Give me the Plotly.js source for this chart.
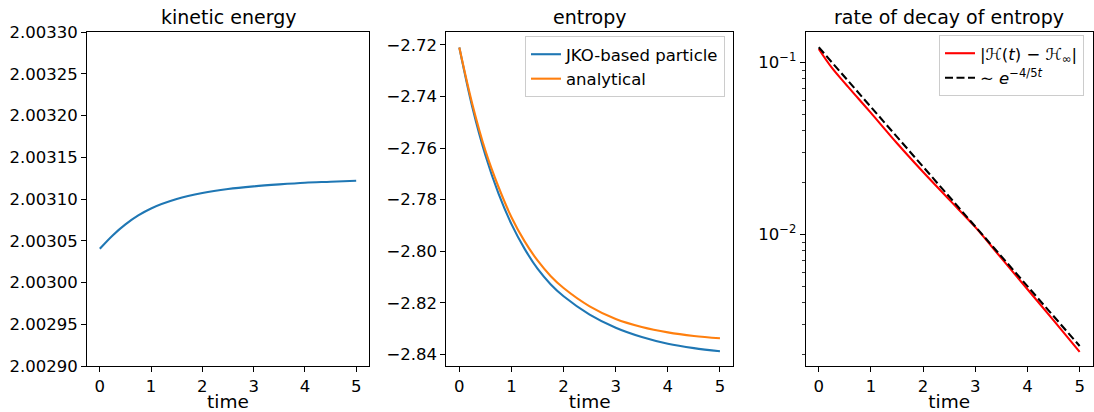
<!DOCTYPE html>
<html>
<head>
<meta charset="utf-8">
<script src="https://cdn.plot.ly/plotly-3.0.1.min.js"></script>
<style>
html,body{margin:0;padding:0;background:#fff;}
#chart{width:1094px;height:412px;}
</style>
</head>
<body>
<div id="chart"></div>
<script>
// ---- data ----
const panelTitles = ["kinetic energy", "entropy", "rate of decay of entropy"];
const xLabel = "time";

const timeKE = [0, 0.25, 0.5, 0.75, 1, 1.5, 2, 2.5, 3, 3.5, 4, 4.5, 5];
const kineticEnergy = [2.0030404, 2.0030564, 2.0030696, 2.0030803, 2.0030887, 2.0030999,
  2.0031071, 2.0031119, 2.0031151, 2.0031175, 2.0031195, 2.0031207, 2.0031219];

const timeH = [0, 0.25, 0.5, 0.75, 1, 1.25, 1.5, 1.75, 2, 2.5, 3, 3.5, 4, 4.5, 5];
const entropyJKO = [-2.7210, -2.7442, -2.7628, -2.7776, -2.7895, -2.7990, -2.8068, -2.8128,
  -2.8175, -2.8246, -2.8297, -2.8333, -2.8359, -2.8376, -2.8388];
const entropyAnalytical = [-2.7210, -2.7430, -2.7610, -2.7750, -2.7868, -2.7961, -2.8036, -2.8096,
  -2.8143, -2.8214, -2.8263, -2.8294, -2.8315, -2.8329, -2.8338];
const entropyNames = ["JKO-based particle", "analytical"];

const timeDecay = [0, 0.25, 0.5, 0.75, 1, 1.5, 2, 2.5, 3, 3.5, 4, 4.5, 5];
const decayError = [0.1195, 0.0930, 0.0756, 0.0620, 0.0508, 0.0338, 0.0230, 0.0159,
  0.01100, 0.00726, 0.00479, 0.00316, 0.00207];
const timeRef = [0, 1, 2, 3, 4, 5];
const decayReference = [0.1223, 0.0550, 0.0247, 0.0111, 0.00499, 0.00224];
const decayNames = ["|\u210B(<i>t</i>) \u2212 \u210B<sub>\u221E</sub>|", "\u223C <i>e</i><sup>\u22124/5<i>t</i></sup>"];

const keTicks = [2.0029, 2.00295, 2.003, 2.00305, 2.0031, 2.00315, 2.0032, 2.00325, 2.0033];
const hTicks = [-2.84, -2.82, -2.80, -2.78, -2.76, -2.74, -2.72];
const logMajor = [0.01, 0.1];
const logMajorText = ["10<sup>\u22122</sup>", "10<sup>\u22121</sup>"];
const logMinor = [0.002, 0.003, 0.004, 0.005, 0.006, 0.007, 0.008, 0.009,
  0.02, 0.03, 0.04, 0.05, 0.06, 0.07, 0.08, 0.09];
const xTicks = [0, 1, 2, 3, 4, 5];

// ---- figure ----
const W = 1094, H = 412;
const FONT = "DejaVu Sans";
const FS = 16.5;      // tick labels and legends
const FS_TITLE = 19;  // panel titles
const FS_LABEL = 18.5; // x axis label
const dom = [[87 / W, 369 / W], [446.3 / W, 733 / W], [805.7 / W, 1092.7 / W]];
const yDom = [1 - 366 / H, 1 - 32 / H];

const traces = [
  {x: timeKE, y: kineticEnergy, xaxis: "x", yaxis: "y", mode: "lines", showlegend: false,
   line: {color: "#1f77b4", width: 2.1, shape: "spline", smoothing: 1}},
  {x: timeH, y: entropyJKO, xaxis: "x2", yaxis: "y2", mode: "lines", name: entropyNames[0],
   legend: "legend", line: {color: "#1f77b4", width: 2.1, shape: "spline", smoothing: 1}},
  {x: timeH, y: entropyAnalytical, xaxis: "x2", yaxis: "y2", mode: "lines", name: entropyNames[1],
   legend: "legend", line: {color: "#ff7f0e", width: 2.1, shape: "spline", smoothing: 1}},
  {x: timeDecay, y: decayError, xaxis: "x3", yaxis: "y3", mode: "lines", name: decayNames[0],
   legend: "legend2", line: {color: "#ff0000", width: 2.1, shape: "spline", smoothing: 1}},
  {x: timeRef, y: decayReference, xaxis: "x3", yaxis: "y3", mode: "lines", name: decayNames[1],
   legend: "legend2", line: {color: "#000000", width: 2.1, dash: "8px,3.5px"}}
];

function xAxis(i) {
  return {
    domain: dom[i], anchor: i === 0 ? "y" : "y" + (i + 1), range: [-0.25, 5.25],
    tickmode: "array", tickvals: xTicks, ticks: "outside", ticklen: 5, tickwidth: 1,
    tickcolor: "#000", showline: true, linecolor: "#000", linewidth: 1, mirror: true,
    showgrid: false, zeroline: false, tickfont: {family: FONT, size: FS, color: "#000"},
    title: {text: xLabel, font: {family: FONT, size: FS_LABEL, color: "#000"}, standoff: 4}
  };
}
function yBase(i) {
  return {
    domain: yDom, anchor: i === 0 ? "x" : "x" + (i + 1), ticks: "outside", ticklen: 5,
    tickwidth: 1, tickcolor: "#000", showline: true, linecolor: "#000", linewidth: 1,
    mirror: true, showgrid: false, zeroline: false,
    tickfont: {family: FONT, size: FS, color: "#000"}
  };
}

const layout = {
  width: W, height: H, margin: {l: 0, r: 0, t: 0, b: 0},
  paper_bgcolor: "#fff", plot_bgcolor: "#fff",
  font: {family: FONT, size: FS, color: "#000"},
  xaxis: xAxis(0), xaxis2: xAxis(1), xaxis3: xAxis(2),
  yaxis: Object.assign(yBase(0), {range: [2.0029, 2.0033], tickmode: "array", tickvals: keTicks,
    ticktext: keTicks.map(v => v.toFixed(5))}),
  yaxis2: Object.assign(yBase(1), {range: [-2.84454, -2.71496], tickmode: "array", tickvals: hTicks,
    ticktext: hTicks.map(v => "\u2212" + Math.abs(v).toFixed(2))}),
  yaxis3: Object.assign(yBase(2), {type: "log", range: [Math.log10(0.001714), Math.log10(0.150)],
    tickmode: "array", tickvals: logMajor, ticktext: logMajorText,
    minor: {tickmode: "array", tickvals: logMinor, ticks: "outside", ticklen: 3, tickwidth: 0.8,
      tickcolor: "#000", showgrid: false}}),
  legend: {x: 725 / W, xanchor: "right", y: 1 - 36 / H, yanchor: "top",
    bgcolor: "rgba(255,255,255,0.8)", bordercolor: "#cccccc", borderwidth: 1,
    font: {family: FONT, size: FS, color: "#000"}},
  legend2: {x: 1084 / W, xanchor: "right", y: 1 - 35 / H, yanchor: "top",
    bgcolor: "rgba(255,255,255,0.8)", bordercolor: "#cccccc", borderwidth: 1,
    font: {family: FONT, size: FS, color: "#000"}},
  annotations: panelTitles.map((t, i) => ({
    text: t, xref: "paper", yref: "paper", x: (dom[i][0] + dom[i][1]) / 2, y: 1 - 17 / H,
    xanchor: "center", yanchor: "middle", showarrow: false,
    font: {family: FONT, size: FS_TITLE, color: "#000"}
  }))
};

Plotly.newPlot("chart", traces, layout, {staticPlot: true, displayModeBar: false});
</script>
</body>
</html>
